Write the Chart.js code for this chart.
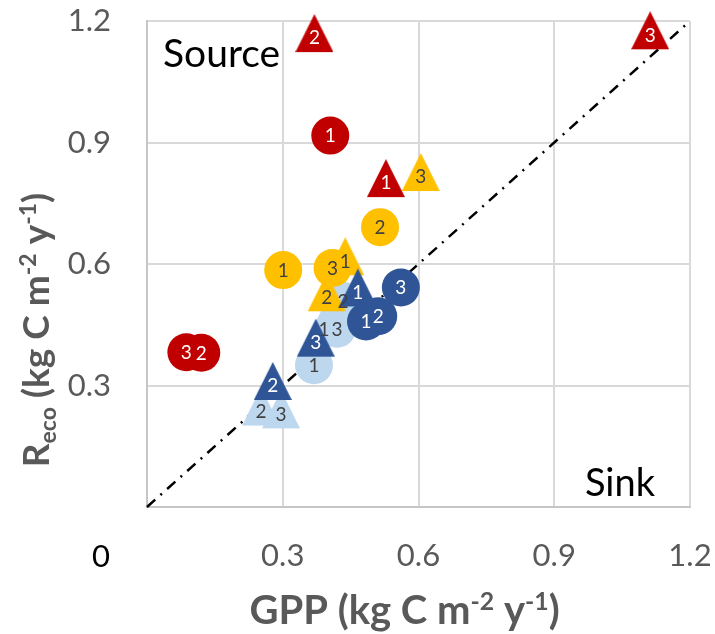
<!DOCTYPE html>
<html><head><meta charset="utf-8">
<script src="https://cdn.jsdelivr.net/npm/chart.js@4/dist/chart.umd.min.js"></script>
<style>html,body{margin:0;padding:0;background:#fff;}#wrap{width:715px;height:634px;}</style>
</head><body><div id="wrap"><canvas id="c" width="715" height="634"></canvas></div>
<script>
// ---- data (GPP on x, Reco on y), kg C m-2 y-1 ----
const siteLabels = ['1', '2', '3'];
const axisTicks = [0, 0.3, 0.6, 0.9, 1.2];
const oneToOneLine = [0, 1.2];

const redCircleGPP = [0.405, 0.120, 0.087];
const redCircleReco = [0.917, 0.381, 0.382];
const redTriangleGPP = [0.528, 0.370, 1.112];
const redTriangleReco = [0.801, 1.159, 1.166];

const goldCircleGPP = [0.301, 0.515, 0.410];
const goldCircleReco = [0.585, 0.691, 0.590];
const goldTriangleGPP = [0.438, 0.397, 0.605];
const goldTriangleReco = [0.608, 0.519, 0.816];

const darkBlueCircleGPP = [0.484, 0.511, 0.561];
const darkBlueCircleReco = [0.458, 0.471, 0.542];
const darkBlueTriangleGPP = [0.466, 0.278, 0.373];
const darkBlueTriangleReco = [0.531, 0.300, 0.407];

const lightBlueCircleGPP = [0.369, 0.433, 0.420];
const lightBlueCircleReco = [0.350, 0.509, 0.440];
const lightBlueTriangleGPP = [0.391, 0.252, 0.296];
const lightBlueTriangleReco = [0.440, 0.237, 0.230];

// ---- styling ----
const RED = '#C00000', GOLD = '#FFC000', DBLUE = '#2F5597', LBLUE = '#BDD7EE';
const FONT = 'Lato, "Open Sans", sans-serif';

function makeTriangle(color) {
  const w = 38, h = 38, ch = 47;
  const c = document.createElement('canvas');
  c.width = w; c.height = ch;
  const g = c.getContext('2d');
  g.fillStyle = color;
  g.beginPath(); g.moveTo(w / 2, 0); g.lineTo(w, h); g.lineTo(0, h); g.closePath(); g.fill();
  return c;
}
function pts(xs, ys) { return xs.map((x, i) => ({ x: x, y: ys[i] })); }
function series(xs, ys, color, shape, textColor, order) {
  return {
    data: pts(xs, ys),
    backgroundColor: color,
    pointBackgroundColor: color,
    pointBorderWidth: 0,
    pointRadius: 19,
    pointHoverRadius: 19,
    pointStyle: shape === 'triangle' ? makeTriangle(color) : 'circle',
    showLine: false,
    clip: false,
    order: order,
    pointLabels: siteLabels,
    labelColor: textColor
  };
}

const datasets = [
  {
    type: 'line',
    data: pts(oneToOneLine, oneToOneLine),
    borderColor: '#000',
    borderWidth: 2.5,
    borderDash: [11, 7, 2, 7],
    pointRadius: 0,
    fill: false,
    clip: false,
    order: 100
  },
  series(lightBlueCircleGPP, lightBlueCircleReco, LBLUE, 'circle', '#404040', 9),
  series(lightBlueTriangleGPP, lightBlueTriangleReco, LBLUE, 'triangle', '#404040', 8),
  series(goldCircleGPP, goldCircleReco, GOLD, 'circle', '#404040', 7),
  series(goldTriangleGPP, goldTriangleReco, GOLD, 'triangle', '#404040', 6),
  series(darkBlueTriangleGPP, darkBlueTriangleReco, DBLUE, 'triangle', '#FFFFFF', 5),
  series(darkBlueCircleGPP, darkBlueCircleReco, DBLUE, 'circle', '#FFFFFF', 4),
  series(redCircleGPP, redCircleReco, RED, 'circle', '#FFFFFF', 3),
  series(redTriangleGPP, redTriangleReco, RED, 'triangle', '#FFFFFF', 2)
];

function drawRich(ctx, parts, size, color) {
  const widths = parts.map(p => {
    const s = p.sup || p.sub ? size * 0.62 : size;
    ctx.font = 'bold ' + s + 'px ' + FONT;
    return ctx.measureText(p.t).width;
  });
  const total = widths.reduce((a, b) => a + b, 0);
  let x = -total / 2;
  ctx.fillStyle = color;
  ctx.textAlign = 'left';
  ctx.textBaseline = 'alphabetic';
  parts.forEach((p, i) => {
    const s = p.sup || p.sub ? size * 0.62 : size;
    ctx.font = 'bold ' + s + 'px ' + FONT;
    let dy = 0;
    if (p.sup) dy = -size * 0.36;
    if (p.sub) dy = size * 0.2;
    ctx.fillText(p.t, x, dy);
    x += widths[i];
  });
}

const decorPlugin = {
  id: 'decor',
  afterDatasetsDraw(chart) {
    const ctx = chart.ctx;
    const order = chart.data.datasets.map((d, i) => i).filter(i => chart.data.datasets[i].pointLabels)
      .sort((a, b) => chart.data.datasets[b].order - chart.data.datasets[a].order);
    ctx.save();
    order.forEach(i => {
      const ds = chart.data.datasets[i];
      const meta = chart.getDatasetMeta(i);
      ctx.font = '19px ' + FONT;
      ctx.fillStyle = ds.labelColor;
      ctx.textAlign = 'center';
      ctx.textBaseline = 'alphabetic';
      meta.data.forEach((pt, j) => {
        ctx.fillText(ds.pointLabels[j], pt.x, pt.y + 19 * 0.36);
      });
    });
    ctx.restore();
  },
  afterDraw(chart) {
    const ctx = chart.ctx;
    const xs = chart.scales.x, ys = chart.scales.y, ca = chart.chartArea;
    ctx.save();
    ctx.font = '31px ' + FONT;
    ctx.fillStyle = '#000';
    ctx.textAlign = 'center';
    ctx.textBaseline = 'middle';
    ctx.fillText('0', xs.getPixelForValue(0) - 46, ys.getPixelForValue(0) + 50);
    ctx.font = '39px ' + FONT;
    ctx.textBaseline = 'alphabetic';
    ctx.textAlign = 'left';
    ctx.fillText('Source', ca.left + 16, ca.top + 46);
    ctx.font = '38px ' + FONT;
    ctx.textAlign = 'right';
    ctx.fillText('Sink', ca.right - 35, ca.bottom - 11);
    ctx.save();
    ctx.translate((ca.left + ca.right) / 2 - 14, 624);
    drawRich(ctx, [{ t: 'GPP (kg C m' }, { t: '-2', sup: true }, { t: ' y' }, { t: '-1', sup: true }, { t: ')' }], 40, '#595959');
    ctx.restore();
    ctx.save();
    ctx.translate(49, 330);
    ctx.rotate(-Math.PI / 2);
    drawRich(ctx, [{ t: 'R' }, { t: 'eco', sub: true }, { t: ' (kg C m' }, { t: '-2', sup: true }, { t: ' y' }, { t: '-1', sup: true }, { t: ')' }], 37, '#595959');
    ctx.restore();
    ctx.restore();
  }
};

const tickFmt = v => (Math.abs(v) < 1e-9 ? '' : Number(v).toFixed(1));

new Chart(document.getElementById('c'), {
  type: 'scatter',
  data: { datasets: datasets },
  options: {
    responsive: false,
    animation: false,
    devicePixelRatio: 1,
    layout: { padding: { top: 21, right: 25, left: 0, bottom: 0 } },
    plugins: { legend: { display: false }, tooltip: { enabled: false } },
    scales: {
      x: {
        type: 'linear', min: 0, max: 1.2,
        afterBuildTicks: s => { s.ticks = axisTicks.map(v => ({ value: v })); },
        afterFit: s => { s.height = 127; s.paddingLeft = 0; s.paddingRight = 0; },
        ticks: { callback: tickFmt, font: { family: FONT, size: 31 }, color: '#595959', padding: 30, maxRotation: 0 },
        grid: { color: '#d9d9d9', lineWidth: 2, drawTicks: false },
        border: { color: '#c6c6c6', width: 2 },
        title: { display: false }
      },
      y: {
        type: 'linear', min: 0, max: 1.2,
        afterBuildTicks: s => { s.ticks = axisTicks.map(v => ({ value: v })); },
        afterFit: s => { s.width = 147; s.paddingTop = 0; s.paddingBottom = 0; },
        ticks: { callback: tickFmt, font: { family: FONT, size: 31 }, color: '#595959', padding: 36 },
        grid: { color: '#d9d9d9', lineWidth: 2, drawTicks: false },
        border: { color: '#c6c6c6', width: 2 },
        title: { display: false }
      }
    }
  },
  plugins: [decorPlugin]
});
</script>
</body></html>
